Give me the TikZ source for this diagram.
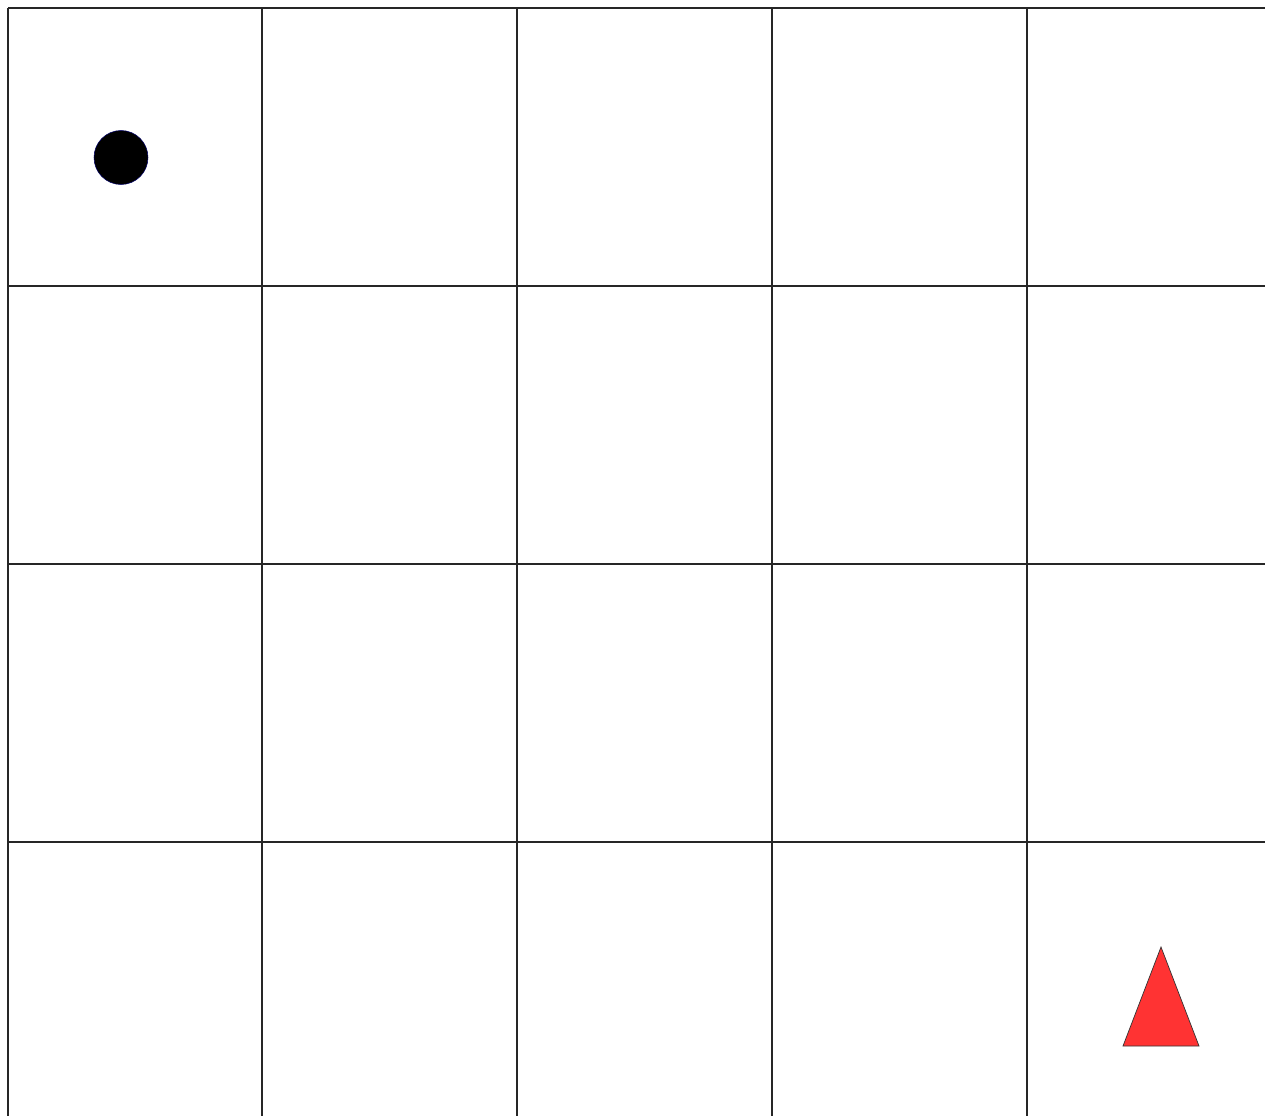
\documentclass[tikz,border=0pt]{standalone}
\begin{document}
\begin{tikzpicture}[x=0.02cm,y=-0.02cm,
  gridline/.style={draw=black!85,line width=0.8pt},
  token/.style={fill=black,draw=blue!40!black,line width=0.3pt},
  goal/.style={fill=red!80!white,draw=black!80,line width=0.4pt}]
\useasboundingbox (0,0) rectangle (1265,1116);
\fill[white] (0,0) rectangle (1265,1116);
% horizontal lines
\foreach \y in {8,286,564,842} \draw[gridline] (8,\y) -- (1265,\y);
% vertical lines
\foreach \x in {8,262,517,772,1027} \draw[gridline] (\x,8) -- (\x,1116);
% black circle
\draw[token] (121,157.5) circle[radius=27];
% red triangle
\draw[goal] (1161,947) -- (1199,1046) -- (1123,1046) -- cycle;
\end{tikzpicture}
\end{document}
